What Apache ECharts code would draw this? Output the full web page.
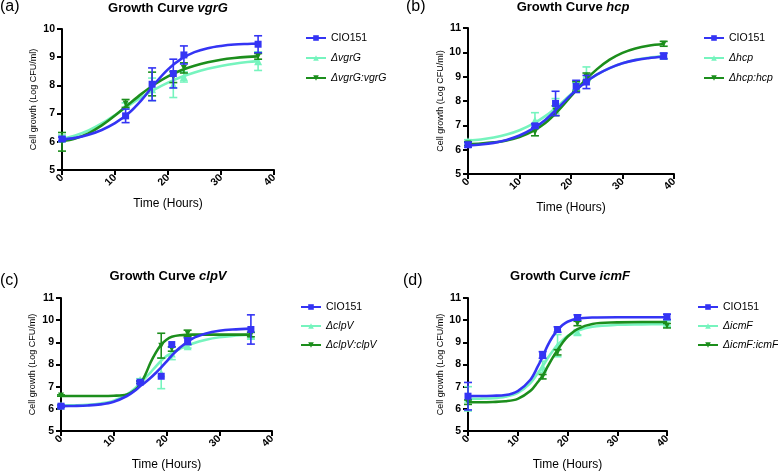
<!DOCTYPE html>
<html>
<head>
<meta charset="utf-8">
<title>Growth curves</title>
<script src="https://cdn.jsdelivr.net/npm/echarts@6/dist/echarts.min.js"></script>
<style>
  html, body { margin: 0; padding: 0; background: #fff; }
  #charts { width: 778px; height: 472px; }
</style>
</head>
<body>
<div id="charts"></div>
<script>
// ---- (a) vgrG ----
var timeA = [0, 12, 17, 21, 23, 37];
var cioA = [6.10, 6.92, 8.04, 8.42, 9.08, 9.46];
var cioErrA = [0.07, 0.24, 0.58, 0.51, 0.32, 0.30];
var mutA = [6.12, 7.28, 7.86, 8.02, 8.30, 8.86];
var mutErrA = [0.12, 0.10, 0.40, 0.45, 0.18, 0.33];
var compA = [6.00, 7.36, 8.05, 8.30, 8.62, 9.03];
var compErrA = [0.33, 0.14, 0.42, 0.20, 0.18, 0.10];
var fitTimeA = [0, 2.5, 5, 7.5, 10, 12.5, 15, 17.5, 20, 22.5, 25, 27.5, 30, 32.5, 35, 37];
var cioFitA = [6.08, 6.14, 6.25, 6.42, 6.66, 7.00, 7.48, 8.06, 8.57, 8.94, 9.18, 9.32, 9.40, 9.45, 9.47, 9.48];
var mutFitA = [6.10, 6.22, 6.40, 6.65, 6.95, 7.27, 7.58, 7.86, 8.10, 8.30, 8.46, 8.59, 8.69, 8.77, 8.83, 8.86];
var compFitA = [6.02, 6.12, 6.30, 6.58, 6.93, 7.32, 7.70, 8.04, 8.32, 8.54, 8.70, 8.82, 8.91, 8.97, 9.01, 9.03];

// ---- (b) hcp ----
var timeB = [0, 13, 17, 21, 23, 38];
var cioB = [6.20, 6.98, 7.90, 8.60, 8.78, 9.85];
var cioErrB = [0.10, 0.08, 0.50, 0.25, 0.27, 0.12];
var mutB = [6.35, 7.20, 7.80, 8.60, 9.10, 9.85];
var mutErrB = [0.06, 0.32, 0.30, 0.15, 0.30, 0.10];
var compB = [6.25, 6.72, 7.60, 8.60, 9.00, 10.35];
var compErrB = [0.08, 0.15, 0.20, 0.20, 0.15, 0.10];
var fitTimeB = [0, 2.5, 5, 7.5, 10, 12.5, 15, 17.5, 20, 22.5, 25, 27.5, 30, 32.5, 35, 38];
var cioFitB = [6.17, 6.21, 6.28, 6.40, 6.58, 6.85, 7.22, 7.72, 8.25, 8.72, 9.08, 9.35, 9.55, 9.68, 9.76, 9.83];
var mutFitB = [6.38, 6.42, 6.50, 6.62, 6.80, 7.05, 7.38, 7.80, 8.28, 8.72, 9.08, 9.35, 9.55, 9.69, 9.78, 9.85];
var compFitB = [6.22, 6.25, 6.30, 6.38, 6.52, 6.75, 7.10, 7.60, 8.20, 8.80, 9.30, 9.70, 9.98, 10.16, 10.27, 10.34];

// ---- (c) clpV ----
var timeC = [0, 15, 19, 21, 24, 36];
var cioC = [6.12, 7.20, 7.47, 8.90, 9.05, 9.58];
var cioErrC = [0.05, 0.06, 0, 0, 0.15, 0.66];
var mutC = [6.15, 7.30, 7.60, 8.50, 8.82, 9.30];
var mutErrC = [0.05, 0.06, 0.69, 0.28, 0.08, 0.15];
var compC = [6.60, 7.20, 8.85, 8.70, 9.40, 9.35];
var compErrC = [0.03, 0.05, 0.56, 0.10, 0.15, 0.10];
var fitTimeC = [0, 2.5, 5, 7.5, 10, 12.5, 14, 15, 16, 17, 18, 19, 20, 21, 22.5, 25, 27.5, 30, 32.5, 36];
var cioFitC = [6.12, 6.13, 6.15, 6.20, 6.32, 6.58, 6.82, 7.02, 7.20, 7.40, 7.63, 7.87, 8.13, 8.40, 8.75, 9.18, 9.40, 9.52, 9.58, 9.62];
var mutFitC = [6.15, 6.16, 6.18, 6.24, 6.37, 6.65, 6.92, 7.15, 7.40, 7.65, 7.92, 8.17, 8.38, 8.52, 8.70, 8.95, 9.12, 9.23, 9.29, 9.34];
var compFitC = [6.58, 6.58, 6.58, 6.58, 6.59, 6.65, 6.85, 7.10, 7.55, 8.10, 8.55, 8.90, 9.12, 9.25, 9.32, 9.35, 9.35, 9.35, 9.35, 9.35];

// ---- (d) icmF ----
var timeD = [0, 15, 18, 22, 40];
var cioD = [6.57, 8.43, 9.58, 10.12, 10.15];
var cioErrD = [0.62, 0.15, 0.12, 0.12, 0.12];
var mutD = [6.45, 7.90, 8.85, 9.45, 9.85];
var mutErrD = [0.55, 0.25, 0.50, 0.12, 0.12];
var compD = [6.30, 7.45, 8.55, 9.85, 9.75];
var compErrD = [0.10, 0.10, 0.12, 0.10, 0.10];
var fitTimeD = [0, 2.5, 5, 7.5, 10, 12.5, 14, 15, 16, 17, 18, 19, 20, 22, 25, 30, 35, 40];
var cioFitD = [6.58, 6.58, 6.59, 6.62, 6.80, 7.30, 7.90, 8.35, 8.85, 9.25, 9.55, 9.78, 9.93, 10.07, 10.12, 10.13, 10.13, 10.13];
var mutFitD = [6.45, 6.46, 6.48, 6.55, 6.72, 7.15, 7.60, 7.92, 8.28, 8.60, 8.88, 9.10, 9.28, 9.52, 9.70, 9.79, 9.81, 9.82];
var compFitD = [6.30, 6.30, 6.31, 6.34, 6.45, 6.80, 7.20, 7.50, 7.90, 8.30, 8.65, 8.98, 9.25, 9.60, 9.83, 9.90, 9.92, 9.92];

var BLUE = '#3434F4';
var AQUA = '#76F4BE';
var GREEN = '#1C8E1C';
var FONT = '"Liberation Sans", Arial, Helvetica, sans-serif';
var DOWN = 'path://M0,0 L10,0 L5,9 Z';

function pairs(xs, ys) {
    return xs.map(function (x, i) { return [x, ys[i]]; });
}
function triples(xs, ys, es) {
    return xs.map(function (x, i) { return [x, ys[i], es[i]]; });
}

// error bars with caps, placed through the axis scales
function errorBar(params, api) {
    var x = api.value(0), y = api.value(1), e = api.value(2);
    if (!e) return null;
    var top = api.coord([x, y + e]);
    var bot = api.coord([x, y - e]);
    var w = 4;
    var st = { stroke: api.visual('color'), lineWidth: 1.6 };
    return {
        type: 'group',
        children: [
            { type: 'line', shape: { x1: top[0], y1: top[1], x2: bot[0], y2: bot[1] }, style: st },
            { type: 'line', shape: { x1: top[0] - w, y1: top[1], x2: top[0] + w, y2: top[1] }, style: st },
            { type: 'line', shape: { x1: bot[0] - w, y1: bot[1], x2: bot[0] + w, y2: bot[1] }, style: st }
        ]
    };
}

var panels = [
    { gene: 'vgrG', tag: '(a)', grid: { left: 62, top: 29, width: 212, height: 141 }, ymax: 10,
      title: [168, 2], tagPos: [0, -1], legend: [305, 31, 6], yGap: 24,
      time: timeA, cio: cioA, cioErr: cioErrA, mut: mutA, mutErr: mutErrA, comp: compA, compErr: compErrA,
      fitTime: fitTimeA, cioFit: cioFitA, mutFit: mutFitA, compFit: compFitA },
    { gene: 'hcp', tag: '(b)', grid: { left: 468, top: 28, width: 206, height: 146 }, ymax: 11,
      title: [573, 1], tagPos: [406, -1], legend: [703, 31, 6], yGap: 22,
      time: timeB, cio: cioB, cioErr: cioErrB, mut: mutB, mutErr: mutErrB, comp: compB, compErr: compErrB,
      fitTime: fitTimeB, cioFit: cioFitB, mutFit: mutFitB, compFit: compFitB },
    { gene: 'clpV', tag: '(c)', grid: { left: 61, top: 298, width: 211, height: 135 }, ymax: 11,
      title: [168, 270], tagPos: [0, 273], legend: [300, 300, 5], yGap: 24,
      time: timeC, cio: cioC, cioErr: cioErrC, mut: mutC, mutErr: mutErrC, comp: compC, compErr: compErrC,
      fitTime: fitTimeC, cioFit: cioFitC, mutFit: mutFitC, compFit: compFitC },
    { gene: 'icmF', tag: '(d)', grid: { left: 468, top: 298, width: 199, height: 135 }, ymax: 11,
      title: [570, 270], tagPos: [403, 273], legend: [697, 300, 5], yGap: 22,
      time: timeD, cio: cioD, cioErr: cioErrD, mut: mutD, mutErr: mutErrD, comp: compD, compErr: compErrD,
      fitTime: fitTimeD, cioFit: cioFitD, mutFit: mutFitD, compFit: compFitD }
];

var option = {
    backgroundColor: '#fff',
    animation: false,
    textStyle: { fontFamily: FONT },
    title: [], grid: [], xAxis: [], yAxis: [], legend: [], series: []
};

panels.forEach(function (p, k) {
    var mutName = '\u0394' + p.gene;
    var compName = '\u0394' + p.gene + ':' + p.gene;

    option.title.push({
        text: '{n|Growth Curve }{g|' + p.gene + '}',
        left: p.title[0], top: p.title[1], textAlign: 'center', padding: 0,
        textStyle: {
            rich: {
                n: { fontFamily: FONT, fontSize: 13, fontWeight: 'bold', color: '#000' },
                g: { fontFamily: FONT, fontSize: 13, fontWeight: 'bold', fontStyle: 'italic', color: '#000' }
            }
        }
    });
    option.title.push({
        text: p.tag, left: p.tagPos[0], top: p.tagPos[1], padding: 0,
        textStyle: { fontFamily: FONT, fontSize: 16, fontWeight: 'normal', color: '#000' }
    });

    option.grid.push(p.grid);

    option.xAxis.push({
        gridIndex: k, type: 'value', min: 0, max: 40, interval: 10,
        name: 'Time (Hours)', nameLocation: 'middle', nameGap: 28,
        nameTextStyle: { fontFamily: FONT, fontSize: 12, color: '#000' },
        axisLine: { lineStyle: { color: '#000', width: 2 } },
        axisTick: { length: 5, lineStyle: { color: '#000', width: 2 } },
        axisLabel: { rotate: 45, margin: 6, fontFamily: FONT, fontSize: 10.5, fontWeight: 'bold', color: '#000' },
        splitLine: { show: false }
    });
    option.yAxis.push({
        gridIndex: k, type: 'value', min: 5, max: p.ymax, interval: 1,
        name: 'Cell growth (Log CFU/ml)', nameLocation: 'middle', nameGap: p.yGap,
        nameTextStyle: { fontFamily: FONT, fontSize: 9, color: '#000' },
        axisLine: { show: true, lineStyle: { color: '#000', width: 2 } },
        axisTick: { show: true, length: 5, lineStyle: { color: '#000', width: 2 } },
        axisLabel: { margin: 7, fontFamily: FONT, fontSize: 10.5, fontWeight: 'bold', color: '#000' },
        splitLine: { show: false }
    });

    option.legend.push({
        orient: 'vertical', left: p.legend[0], top: p.legend[1], itemGap: p.legend[2],
        padding: 0, itemWidth: 20, itemHeight: 7,
        textStyle: { fontFamily: FONT, fontSize: 10.5, color: '#000', lineHeight: 14 },
        data: [
            { name: 'CIO151' },
            { name: mutName, textStyle: { fontStyle: 'italic' } },
            { name: compName, textStyle: { fontStyle: 'italic' } }
        ]
    });

    var sets = [
        { name: mutName, color: AQUA, sym: 'triangle', size: 8, fit: p.mutFit, pts: p.mut, err: p.mutErr },
        { name: compName, color: GREEN, sym: DOWN, size: 6, fit: p.compFit, pts: p.comp, err: p.compErr },
        { name: 'CIO151', color: BLUE, sym: 'rect', size: 7, fit: p.cioFit, pts: p.cio, err: p.cioErr }
    ];
    sets.forEach(function (s, j) {
        option.series.push({
            name: s.name, type: 'line', xAxisIndex: k, yAxisIndex: k,
            data: pairs(p.fitTime, s.fit), smooth: 0.35,
            symbol: s.sym, showSymbol: false, color: s.color,
            lineStyle: { width: 2.6, color: s.color }, z: 3 + j
        });
        option.series.push({
            type: 'custom', xAxisIndex: k, yAxisIndex: k, renderItem: errorBar,
            data: triples(p.time, s.pts, s.err), encode: { x: 0, y: 1 },
            itemStyle: { color: s.color }, clip: false, z: 3 + j, silent: true
        });
        option.series.push({
            type: 'scatter', xAxisIndex: k, yAxisIndex: k,
            data: pairs(p.time, s.pts), symbol: s.sym, symbolSize: s.size,
            itemStyle: { color: s.color, opacity: 1 }, z: 3 + j, silent: true
        });
    });
});

var myChart = echarts.init(document.getElementById('charts'), null, { renderer: 'canvas' });
myChart.setOption(option);
</script>
</body>
</html>
